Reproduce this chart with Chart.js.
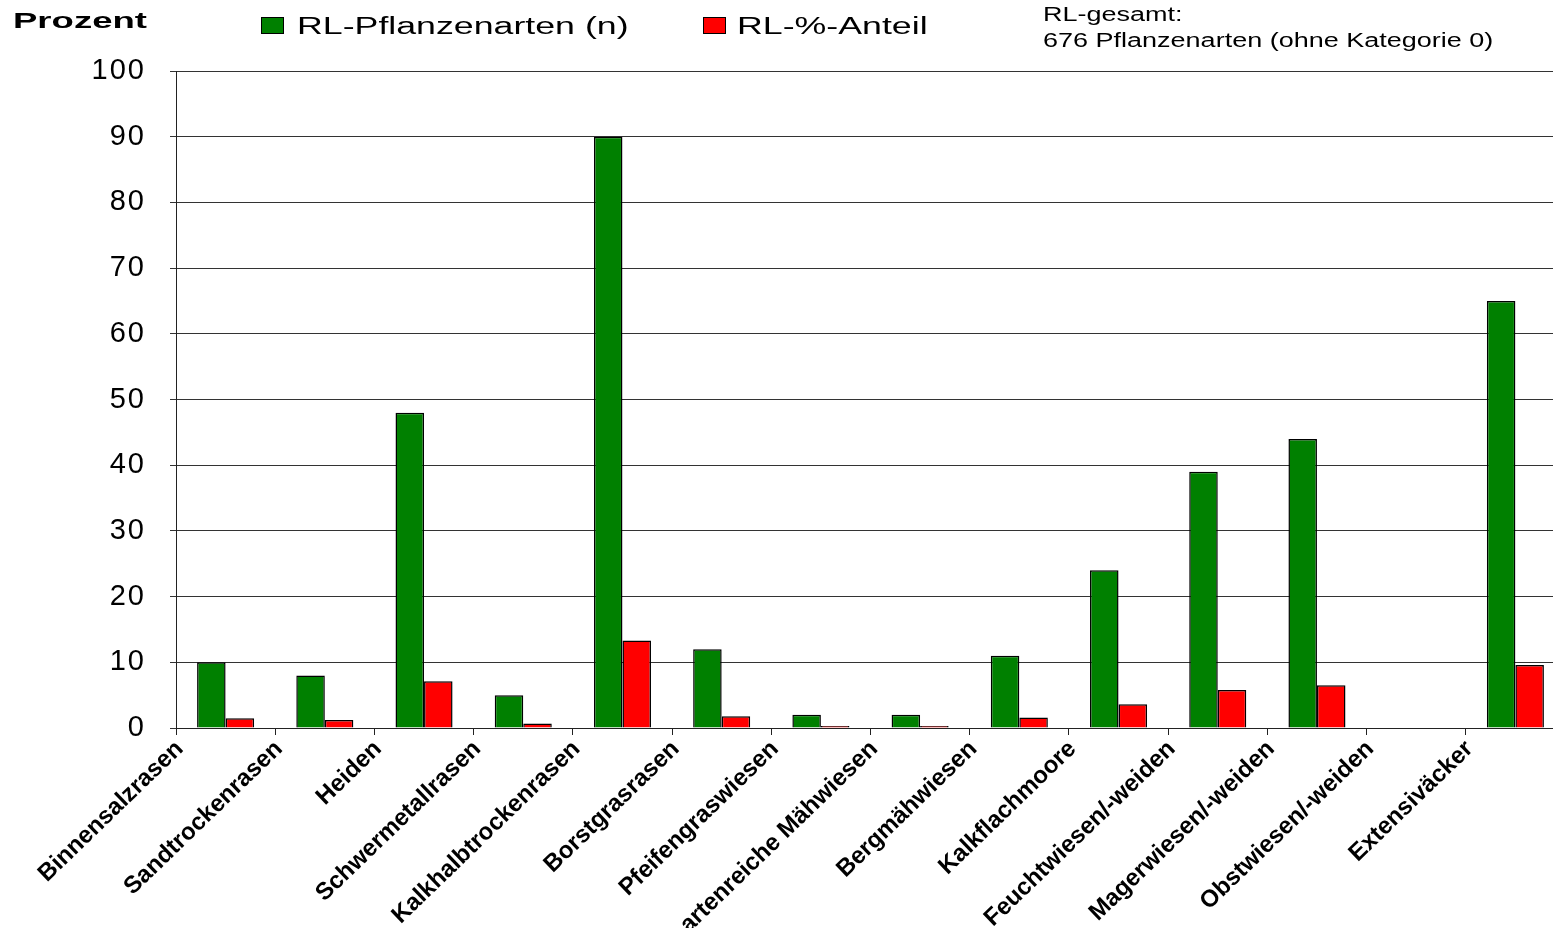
<!DOCTYPE html>
<html lang="de">
<head>
<meta charset="utf-8">
<title>Rote-Liste-Pflanzenarten nach Lebensraum</title>
<script src="https://cdn.jsdelivr.net/npm/chart.js@4.4.1/dist/chart.umd.min.js"></script>
<style>
  html, body { margin: 0; padding: 0; background: #fff; overflow: hidden; }
  canvas { display: block; }
</style>
</head>
<body>
<canvas id="chart" width="1566" height="928"></canvas>
<script>
// Lebensraumtypen (x-Achse)
const categories = [
  'Binnensalzrasen',
  'Sandtrockenrasen',
  'Heiden',
  'Schwermetallrasen',
  'Kalkhalbtrockenrasen',
  'Borstgrasrasen',
  'Pfeifengraswiesen',
  'artenreiche Mähwiesen',
  'Bergmähwiesen',
  'Kalkflachmoore',
  'Feuchtwiesen/-weiden',
  'Magerwiesen/-weiden',
  'Obstwiesen/-weiden',
  'Extensiväcker'
];

// Anzahl Rote-Liste-Pflanzenarten je Lebensraum
const rlArten = [10, 8, 48, 5, 90, 12, 2, 2, 11, 24, 39, 44, 0, 65];

// Anteil an allen 676 RL-Arten in Prozent
const rlAnteil = [1.5, 1.2, 7.1, 0.7, 13.3, 1.8, 0.3, 0.3, 1.6, 3.6, 5.8, 6.5, 0, 9.6];

const seriesNames = ['RL-Pflanzenarten (n)', 'RL-%-Anteil'];
const seriesColors = ['#008000', '#ff0000'];

// y-Achse: 0 bis 100 in Zehnerschritten
const yMin = 0;
const yMax = 100;
const yStep = 10;

const axisTitle = 'Prozent';
const noteLines = ['RL-gesamt:', '676 Pflanzenarten (ohne Kategorie 0)'];

const FONT = '"Liberation Sans", Arial, Helvetica, sans-serif';

// draws text stretched horizontally by sx
function wideText(ctx, text, x, y, font, sx) {
  ctx.save();
  ctx.font = font;
  ctx.textAlign = 'left';
  ctx.textBaseline = 'alphabetic';
  ctx.fillStyle = '#000';
  ctx.translate(x, y);
  ctx.scale(sx, 1);
  ctx.fillText(text, 0, 0);
  ctx.restore();
}

// wider digits on the value axis, normal spacing for everything else
const letterSpacingPlugin = {
  id: 'letterSpacing',
  beforeDraw(chart) { chart.ctx.letterSpacing = '2px'; },
  beforeDatasetsDraw(chart) { chart.ctx.letterSpacing = '0px'; }
};

// axis title, legend and note in the header row
const headerPlugin = {
  id: 'header',
  afterDraw(chart) {
    const ctx = chart.ctx;
    ctx.save();
    ctx.letterSpacing = '0px';

    wideText(ctx, axisTitle, 13, 28, 'bold 22px ' + FONT, 1.66);

    const boxes = [
      { bx: 261, tx: 297 },
      { bx: 703, tx: 737 }
    ];
    chart.data.datasets.forEach((ds, i) => {
      const b = boxes[i];
      ctx.fillStyle = ds.backgroundColor;
      ctx.fillRect(b.bx, 17.5, 23, 16);
      ctx.strokeStyle = '#000';
      ctx.lineWidth = 1;
      ctx.strokeRect(b.bx + 0.5, 17.5, 22, 16);
      wideText(ctx, ds.label, b.tx, 34, '23.5px ' + FONT, 1.52);
    });

    wideText(ctx, noteLines[0], 1043, 21, '20px ' + FONT, 1.35);
    wideText(ctx, noteLines[1], 1043, 47, '20px ' + FONT, 1.35);

    ctx.restore();
  }
};

new Chart(document.getElementById('chart'), {
  type: 'bar',
  data: {
    labels: categories,
    datasets: [
      {
        label: seriesNames[0],
        data: rlArten,
        backgroundColor: seriesColors[0],
        borderColor: '#000',
        borderWidth: 1.5,
        categoryPercentage: 0.575,
        barPercentage: 1.0
      },
      {
        label: seriesNames[1],
        data: rlAnteil,
        backgroundColor: seriesColors[1],
        borderColor: '#000',
        borderWidth: 1.5,
        categoryPercentage: 0.575,
        barPercentage: 1.0
      }
    ]
  },
  options: {
    responsive: false,
    animation: false,
    devicePixelRatio: 1,
    layout: { padding: { top: 71, left: 0, right: 1, bottom: 0 } },
    plugins: {
      legend: { display: false },
      tooltip: { enabled: false },
      title: { display: false }
    },
    scales: {
      x: {
        offset: true,
        grid: {
          offset: true,
          drawOnChartArea: false,
          drawTicks: true,
          tickLength: 7,
          color: '#222',
          lineWidth: 1
        },
        border: { display: true, color: '#222', width: 1 },
        ticks: {
          autoSkip: false,
          minRotation: 44,
          maxRotation: 44,
          labelOffset: -46,
          padding: 0,
          color: '#000',
          z: 1,
          font: { family: FONT, size: 24, weight: 'bold' }
        },
        afterFit(scale) { scale.height = 200; }
      },
      y: {
        min: yMin,
        max: yMax,
        grid: {
          color: '#333',
          lineWidth: 1,
          drawTicks: true,
          tickLength: 6
        },
        border: { display: true, color: '#222', width: 1 },
        ticks: {
          stepSize: yStep,
          padding: 24,
          color: '#000',
          font: { family: FONT, size: 29 }
        },
        afterFit(scale) { scale.width = 176; }
      }
    }
  },
  plugins: [letterSpacingPlugin, headerPlugin]
});
</script>
</body>
</html>
